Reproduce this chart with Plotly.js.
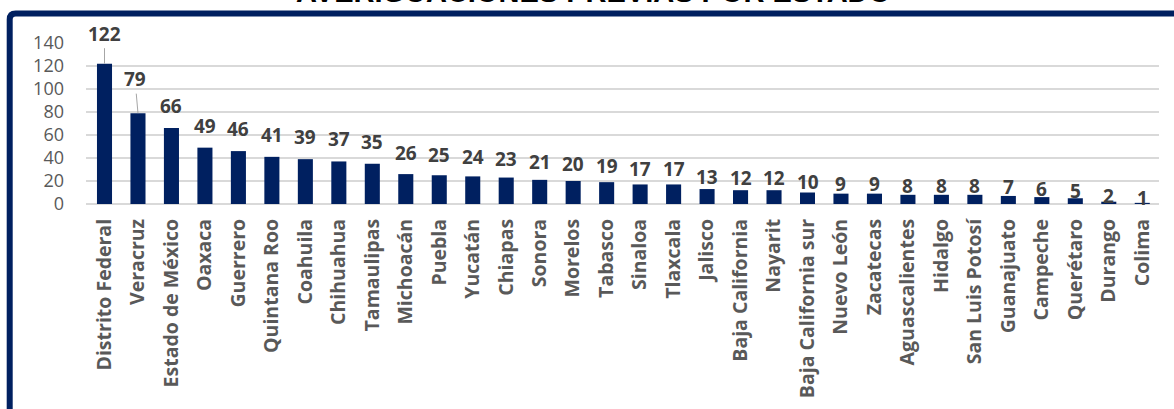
<!DOCTYPE html>
<html>
<head>
<meta charset="utf-8">
<script src="https://cdn.plot.ly/plotly-3.0.1.min.js"></script>
<style>
  html, body { margin: 0; padding: 0; background: #ffffff; }
  #chart { width: 1174px; height: 409px; }
</style>
</head>
<body>
<div id="chart"></div>
<script>
const chartTitle = "AVERIGUACIONES PREVIAS POR ESTADO";
const categories = [
  "Distrito Federal", "Veracruz", "Estado de México", "Oaxaca", "Guerrero",
  "Quintana Roo", "Coahuila", "Chihuahua", "Tamaulipas", "Michoacán",
  "Puebla", "Yucatán", "Chiapas", "Sonora", "Morelos", "Tabasco",
  "Sinaloa", "Tlaxcala", "Jalisco", "Baja California", "Nayarit",
  "Baja California sur", "Nuevo León", "Zacatecas", "Aguascalientes",
  "Hidalgo", "San Luis Potosí", "Guanajuato", "Campeche", "Querétaro",
  "Durango", "Colima"
];
const values = [122, 79, 66, 49, 46, 41, 39, 37, 35, 26, 25, 24, 23, 21, 20, 19,
  17, 17, 13, 12, 12, 10, 9, 9, 8, 8, 8, 7, 6, 5, 2, 1];
const yTickValues = [0, 20, 40, 60, 80, 100, 120, 140];

// layout geometry (pixels)
const W = 1174, H = 409;
const mL = 86, mR = 15, mT = 43, mB = 205;
const plotW = W - mL - mR, plotH = H - mT - mB;
const px2paperX = px => (px - mL) / plotW;
const px2paperY = py => (H - mB - py) / plotH;

const navy = "#002060";

const trace = {
  type: "bar",
  x: categories,
  y: values,
  marker: { color: navy, line: { width: 0 } },
  hoverinfo: "x+y"
};

// value labels
const labelFont = { family: "Open Sans", size: 19, color: "#404040", weight: "bold" };
const annotations = values.map((v, i) => {
  if (i === 0) {
    return { x: categories[i], y: v, xref: "x", yref: "y", text: "<b>" + v + "</b>",
      showarrow: true, arrowhead: 0, arrowwidth: 1, arrowcolor: "#A6A6A6",
      ax: 0, ay: -30, font: labelFont, standoff: 0 };
  }
  if (i === 1) {
    return { x: categories[i], y: v, xref: "x", yref: "y", text: "<b>" + v + "</b>",
      showarrow: true, arrowhead: 0, arrowwidth: 1, arrowcolor: "#A6A6A6",
      ax: -3, ay: -34, font: labelFont, standoff: 0 };
  }
  return { x: categories[i], y: v, xref: "x", yref: "y", text: "<b>" + v + "</b>",
    showarrow: false, yanchor: "middle", yshift: Math.min(4 + 0.65 * v, 22),
    font: labelFont };
});

// title (partially above the picture)
annotations.push({
  xref: "paper", yref: "paper",
  x: px2paperX(593.5), y: px2paperY(10),
  xanchor: "center", yanchor: "bottom",
  showarrow: false,
  text: "<b>" + chartTitle + "</b>",
  font: { family: "Liberation Sans", size: 29, color: "#000000" }
});

const frameX = px2paperX(9.7);
const frameY = px2paperY(13.5);
const r = 6;
const x0 = frameX, y1 = frameY;
const rx = r / plotW, ry = r / plotH;
const framePath = "M " + x0 + " -3 L " + x0 + " " + (y1 - ry) +
  " Q " + x0 + " " + y1 + " " + (x0 + rx) + " " + y1 + " L 1.5 " + y1;

const layout = {
  width: W, height: H,
  margin: { l: mL, r: mR, t: mT, b: mB, pad: 0 },
  paper_bgcolor: "#ffffff",
  plot_bgcolor: "#ffffff",
  showlegend: false,
  bargap: 0.55,
  font: { family: "Open Sans", color: "#595959" },
  xaxis: {
    type: "category",
    tickangle: -90,
    tickfont: { family: "Open Sans", size: 19.5, color: "#595959", weight: "bold" },
    ticks: "",
    ticklabelstandoff: 10,
    showgrid: false,
    showline: false,
    zeroline: false,
    automargin: false,
    fixedrange: true
  },
  yaxis: {
    range: [0, 140],
    tickmode: "array",
    tickvals: yTickValues,
    ticktext: yTickValues.map(String),
    tickfont: { family: "Open Sans", size: 18, color: "#595959" },
    ticks: "",
    ticklabelstandoff: 21,
    showgrid: true,
    gridcolor: "#D9D9D9",
    gridwidth: 1.5,
    zeroline: true,
    zerolinecolor: "#D9D9D9",
    zerolinewidth: 1.5,
    showline: false,
    automargin: false,
    fixedrange: true
  },
  annotations: annotations,
  shapes: [
    { type: "path", xref: "paper", yref: "paper", path: framePath,
      line: { color: navy, width: 6 }, layer: "above" }
  ]
};

Plotly.newPlot("chart", [trace], layout, { displayModeBar: false, staticPlot: true });
</script>
</body>
</html>
